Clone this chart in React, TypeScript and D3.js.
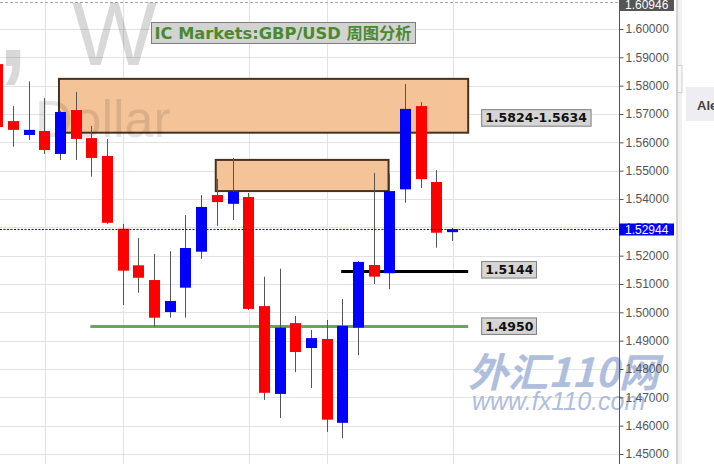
import React, { useRef, useEffect } from 'react';
import * as d3 from 'd3';

// weekly GBP/USD candles (index 0 is cut at the left edge)
const opens = [1.5876, 1.5675, 1.5626, 1.5640, 1.5559, 1.5714, 1.5615, 1.5552, 1.5295, 1.5166, 1.5114, 1.5001, 1.5087, 1.5214, 1.5414, 1.5383, 1.5407, 1.5022, 1.4712, 1.4962, 1.4874, 1.4906, 1.4610, 1.4946, 1.5167, 1.5138, 1.5434, 1.5728, 1.5460, 1.5283];
const highs = [1.5890, 1.5728, 1.5815, 1.5756, 1.5710, 1.5778, 1.5658, 1.5612, 1.5312, 1.5262, 1.5206, 1.5216, 1.5343, 1.5414, 1.5471, 1.5545, 1.5421, 1.5126, 1.5154, 1.4987, 1.4938, 1.4973, 1.5047, 1.5181, 1.5492, 1.5490, 1.5806, 1.5742, 1.5502, 1.5298];
const lows = [1.5640, 1.5585, 1.5608, 1.5559, 1.5538, 1.5538, 1.5479, 1.5312, 1.5026, 1.5069, 1.4949, 1.4981, 1.4981, 1.5189, 1.5305, 1.5326, 1.5008, 1.4691, 1.4627, 1.4789, 1.4733, 1.4578, 1.4556, 1.4849, 1.5100, 1.5082, 1.5387, 1.5439, 1.5228, 1.5252];
const closes = [1.5654, 1.5644, 1.5644, 1.5573, 1.5707, 1.5612, 1.5545, 1.5316, 1.5147, 1.5122, 1.4981, 1.5040, 1.5227, 1.5372, 1.5389, 1.5426, 1.5012, 1.4716, 1.4946, 1.4860, 1.4909, 1.4621, 1.4952, 1.5178, 1.5126, 1.5428, 1.5718, 1.5470, 1.5281, 1.5294];

const priceTicks = [1.45, 1.46, 1.47, 1.48, 1.49, 1.50, 1.51, 1.52, 1.53, 1.54, 1.55, 1.56, 1.57, 1.58, 1.59, 1.60];
const gridCandles = [3, 8, 16, 21, 29];

// resistance zones: [top, bottom], [from candle, to candle]
const zoneTops = [1.5824, 1.5538];
const zoneBottoms = [1.5634, 1.5428];
const zoneFrom = [3.9, 13.9];
const zoneTo = [30, 24.92];

// horizontal levels
const levelPrices = [1.5144, 1.4950];
const levelFrom = [21.9, 5.9];
const levelColors = ['#000000', '#6aa84f'];

// tags on the right of the drawings
const tagTexts = ['1.5824-1.5634', '1.5144', '1.4950'];
const tagPrices = [1.5687, 1.5151, 1.4952];

const currentPrice = 1.52944;
const maxPrice = 1.60946;
const title = 'IC Markets:GBP/USD 周图分析';

const width = 714;
const height = 464;
const axisX = 619;

const App: React.FC = () => {
  const axisRef = useRef<SVGGElement | null>(null);

  const y = d3.scaleLinear().domain([1.45, 1.60]).range([454, 29]);
  const x = d3.scaleLinear().domain([1, 29]).range([13.5, 452.5]);
  const crisp = (v: number) => Math.round(v) + 0.5;

  useEffect(() => {
    if (!axisRef.current) return;
    const g = d3.select(axisRef.current);
    g.call(
      d3.axisRight(y)
        .tickValues(priceTicks)
        .tickSize(4)
        .tickPadding(2)
        .tickFormat(d3.format('.5f'))
    );
    g.select('.domain').remove();
    g.selectAll('.tick line').attr('stroke', '#555');
    g.selectAll('.tick text')
      .attr('fill', '#555')
      .attr('font-size', 12)
      .attr('font-family', '"Liberation Sans", Arial, sans-serif');
    return () => {
      g.selectAll('*').remove();
    };
  }, []);

  const candles = opens.map((o, i) => ({ i, o, h: highs[i], l: lows[i], c: closes[i] }));
  const tagX = x(30) + 13;

  return (
    <svg width={width} height={height} style={{ position: 'absolute', left: 0, top: 0, background: '#fff' }}>
      {/* grid */}
      {priceTicks.map(t => (
        <line key={t} x1={0} x2={axisX} y1={crisp(y(t))} y2={crisp(y(t))} stroke="#e2e2e2" />
      ))}
      {gridCandles.map(i => (
        <line key={i} x1={crisp(x(i))} x2={crisp(x(i))} y1={0} y2={height} stroke="#e2e2e2" />
      ))}
      <line x1={0} x2={axisX} y1={crisp(y(maxPrice))} y2={crisp(y(maxPrice))} stroke="#aaa" strokeDasharray="3,2" />

      {/* zones */}
      {zoneTops.map((top, k) => (
        <rect key={k} x={x(zoneFrom[k])} y={y(top)} width={x(zoneTo[k]) - x(zoneFrom[k])}
          height={y(zoneBottoms[k]) - y(top)} fill="#f4c498" stroke="#463220" strokeWidth={2} />
      ))}

      {/* symbol watermark */}
      <g fontFamily='"Liberation Sans", Arial, sans-serif' fill="#000">
        <text x={-8} y={66} fontSize={150} opacity={0.15}>,</text>
        <text x={72} y={65} fontSize={90} opacity={0.15}>W</text>
        <text x={35} y={137} fontSize={52} opacity={0.1}>Dollar</text>
      </g>

      {/* levels */}
      {levelPrices.map((p, k) => (
        <line key={k} x1={x(levelFrom[k])} x2={x(30)} y1={y(p)} y2={y(p)} stroke={levelColors[k]} strokeWidth={3} />
      ))}

      {/* candles */}
      {candles.map(d => {
        const bx = Math.round(x(d.i) - 5.5);
        const top = y(Math.max(d.o, d.c));
        const bottom = y(Math.min(d.o, d.c));
        return (
          <g key={d.i}>
            <line x1={bx + 5.5} x2={bx + 5.5} y1={y(d.h)} y2={y(d.l)} stroke="#555" />
            <rect x={bx} y={top} width={11} height={Math.max(1.5, bottom - top)} fill={d.c >= d.o ? '#0000ff' : '#ff0000'} />
          </g>
        );
      })}

      {/* current price */}
      <line x1={0} x2={axisX} y1={crisp(y(currentPrice))} y2={crisp(y(currentPrice))} stroke="#1010b0" strokeDasharray="2,1.5" />

      {/* tags */}
      {tagTexts.map((t, k) => (
        <g key={t}>
          <rect x={tagX + 0.5} y={y(tagPrices[k]) - 8} width={8 + 7.8 * t.length} height={16.5}
            fill="#d5d5d5" stroke="#7f7f7f" />
          <text x={tagX + 4} y={y(tagPrices[k])} dy="0.37em" fontSize={12.5} fontWeight="bold"
            fontFamily='"DejaVu Sans", Verdana, sans-serif' fill="#111">{t}</text>
        </g>
      ))}

      {/* title */}
      <rect x={151.5} y={22.5} width={264} height={21} fill="#d3d3d3" stroke="#7d7d7d" />
      <text x={154.5} y={39} fontSize={16} fontWeight="bold" fill="#4a8a2e"
        fontFamily='"DejaVu Sans", Verdana, "Noto Sans CJK SC", sans-serif'
        textLength={257} lengthAdjust="spacingAndGlyphs">{title}</text>

      {/* site watermark */}
      <g fill="#a3b3d8" opacity={0.85} fontStyle="italic" fontWeight="bold">
        <text x={468} y={387} fontSize={40} fontFamily='"Noto Sans CJK SC", "DejaVu Sans", sans-serif'>外汇110网</text>
        <text x={472} y={410} fontSize={25} fontWeight="normal" fontFamily='"Liberation Sans", Arial, sans-serif'>www.fx110.com</text>
      </g>

      {/* price axis */}
      <line x1={axisX + 0.5} x2={axisX + 0.5} y1={0} y2={height} stroke="#555" />
      <g ref={axisRef} transform={`translate(${axisX + 0.5},0)`} />

      {/* max price tag */}
      <rect x={axisX} y={-2} width={55} height={13} fill="#555" />
      <text x={axisX + 6} y={4.5} dy="0.35em" fontSize={12} fill="#fff"
        fontFamily='"Liberation Sans", Arial, sans-serif'>{d3.format('.5f')(maxPrice)}</text>

      {/* current price tag */}
      <rect x={axisX} y={crisp(y(currentPrice)) - 6} width={55} height={12} fill="#0000ee" />
      <text x={axisX + 6} y={crisp(y(currentPrice))} dy="0.35em" fontSize={12} fill="#fff"
        fontFamily='"Liberation Sans", Arial, sans-serif'>{d3.format('.5f')(currentPrice)}</text>

      {/* side panel */}
      <rect x={676} y={0} width={2} height={height} fill="#d3d3d3" />
      <rect x={678} y={0} width={4} height={height} fill="#f1f1f1" />
      <rect x={677.5} y={65.5} width={4.5} height={27} fill="#f7f7f7" stroke="#cfcfcf" />
      <rect x={686} y={87} width={40} height={34} fill="#eeeef2" />
      <text x={697} y={110} fontSize={13} fontWeight="bold" fill="#444"
        fontFamily='"Liberation Sans", Arial, sans-serif'>Ale</text>
    </svg>
  );
};

export default App;
